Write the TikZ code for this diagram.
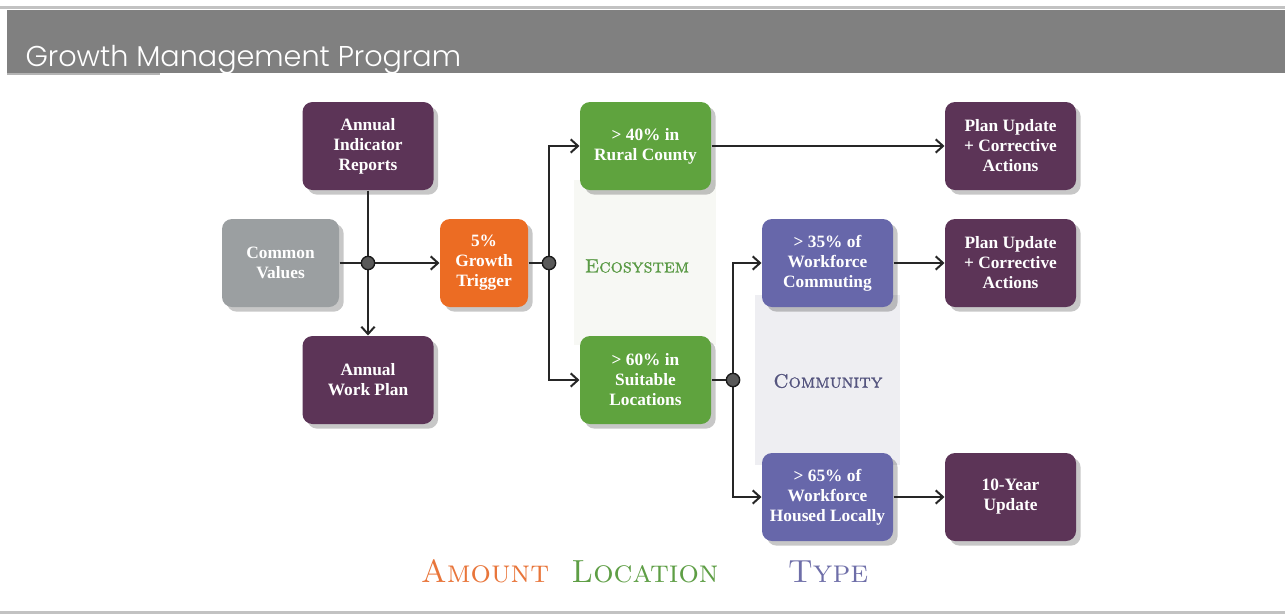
\documentclass[tikz,border=0pt]{standalone}
\usepackage{fontspec}
\newfontfamily\boxfont{Liberation Serif}
\newfontfamily\titlefont{Poppins}[UprightFont=* Light]
\newfontfamily\capsfont{lmromancaps10-regular}[Extension=.otf, FakeBold=1.2]
\usetikzlibrary{arrows.meta,shadows}

\definecolor{rulegrey}{HTML}{C2C2C2}
\definecolor{headgrey}{HTML}{808080}
\definecolor{stripgrey}{HTML}{B4B4B4}
\definecolor{plum}{HTML}{5C3457}
\definecolor{stone}{HTML}{9B9FA1}
\definecolor{ember}{HTML}{EC6C23}
\definecolor{leaf}{HTML}{5FA33E}
\definecolor{iris}{HTML}{6767AA}
\definecolor{ecoband}{HTML}{F7F8F4}
\definecolor{comband}{HTML}{EEEEF2}
\definecolor{ecotext}{HTML}{5A9A45}
\definecolor{comtext}{HTML}{55557F}
\definecolor{amounttext}{HTML}{E8753A}
\definecolor{loctext}{HTML}{5E9E45}
\definecolor{typetext}{HTML}{6E6EA8}

\tikzset{every picture/.style={line width=0.75pt}}
\tikzset{
  card/.style={rounded corners=7.5pt, minimum width=98.25pt, minimum height=66pt,
    inner sep=2pt, align=center, text=white,
    font=\boxfont\bfseries\fontsize{13}{15}\selectfont,
    drop shadow={shadow xshift=3.5pt, shadow yshift=-3.5pt, opacity=0.22, fill=black}},
  link/.style={line width=1.5pt, draw=black!85},
  flow/.style={link, -{Straight Barb[length=5.5pt,width=10pt]}},
  junc/.style={circle, fill=black!65, draw=black!90, line width=1pt, minimum size=10pt, inner sep=0pt},
  tag/.style={inner sep=0pt, font=\capsfont\fontsize{14.5}{17}\selectfont},
  heading/.style={inner sep=0pt, anchor=base, font=\rmfamily\fontsize{24}{29}\selectfont}
}

\begin{document}
\begin{tikzpicture}[x=0.75pt,y=0.75pt,yscale=-1,xscale=1]
\useasboundingbox (0,0) rectangle (1285,615);

%Header band
\fill[rulegrey] (0,6) rectangle (1285,9);
\fill[headgrey] (7,10) rectangle (1285,73);
\fill[stripgrey] (7,73) rectangle (160,75);
\fill[rulegrey] (0,611) rectangle (1285,614);
\node[anchor=base west, inner sep=0pt, text=white, font=\titlefont\fontsize{21.5}{26}\selectfont] (title) at (25,66) {Growth Management Program};

%Shaded columns
\fill[ecoband] (574,180) rectangle (716,345);
\fill[comband] (755,295) rectangle (900,465);

%Boxes
\node[card, fill=plum] (air) at (368,146) {Annual\\Indicator\\Reports};
\node[card, fill=stone, minimum width=87.75pt] (cv) at (280.5,263) {Common\\Values};
\node[card, fill=plum] (awp) at (368,380) {Annual\\Work Plan};
\node[card, fill=ember, minimum width=66pt] (gt) at (484,263) {5\%\\Growth\\Trigger};
\node[card, fill=leaf] (rural) at (645.5,146) {> 40\% in\\Rural County};
\node[card, fill=leaf] (suit) at (645.5,380) {> 60\% in\\Suitable\\Locations};
\node[card, fill=iris] (commute) at (827.5,263) {> 35\% of\\Workforce\\Commuting};
\node[card, fill=iris] (housed) at (827.5,497) {> 65\% of\\Workforce\\Housed Locally};
\node[card, fill=plum] (fix1) at (1010.5,146) {Plan Update\\+ Corrective\\Actions};
\node[card, fill=plum] (fix2) at (1010.5,263) {Plan Update\\+ Corrective\\Actions};
\node[card, fill=plum] (decade) at (1010.5,497) {10-Year\\Update};

%Junctions
\coordinate (j1) at (368,263);
\coordinate (j2) at (549,263);
\coordinate (j3) at (733,380);

%Straight Lines
\draw[link] (cv) -- (j1);
\draw[flow] (j1) -- (gt);
\draw[flow] (air) -- (awp);
\draw[link] (gt) -- (j2);
\draw[flow] (j2) |- (rural);
\draw[flow] (j2) |- (suit);
\draw[flow] (rural) -- (fix1);
\draw[link] (suit) -- (j3);
\draw[flow] (j3) |- (commute);
\draw[flow] (j3) |- (housed);
\draw[flow] (commute) -- (fix2);
\draw[flow] (housed) -- (decade);

\node[junc] (dot1) at (j1) {};
\node[junc] (dot2) at (j2) {};
\node[junc] (dot3) at (j3) {};

%Labels
\node[tag, text=ecotext] (eco) at (637,266) {Ecosystem};
\node[tag, text=comtext] (com) at (828,381) {Community};

\node[heading, text=amounttext] (amount) at (485,582) {\textsc{Amount}};
\node[heading, text=loctext] (location) at (645,582) {\textsc{Location}};
\node[heading, text=typetext] (type) at (828,582) {\textsc{Type}};
\end{tikzpicture}
\end{document}
